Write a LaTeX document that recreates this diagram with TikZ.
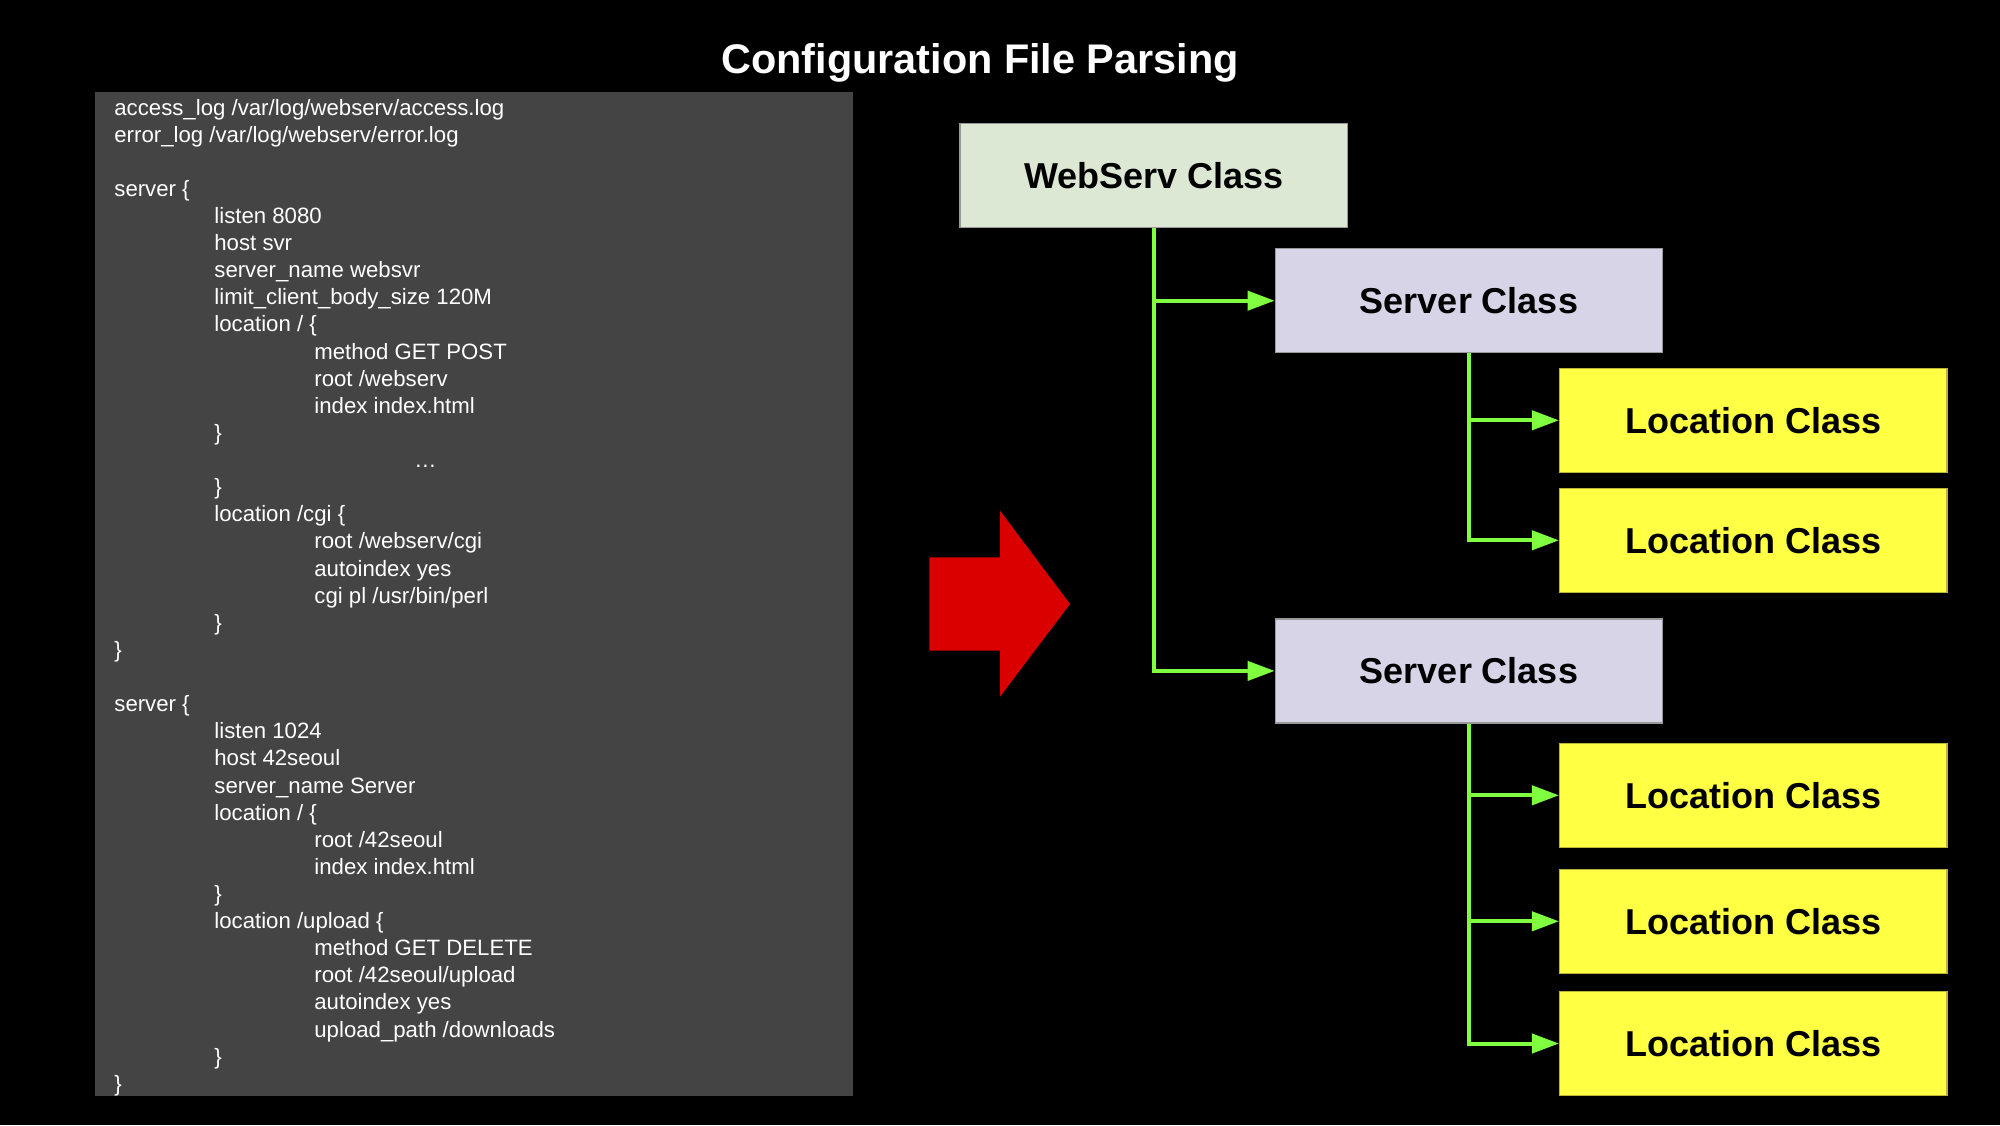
\documentclass[tikz,border=0pt]{standalone}
\usepackage{fontspec}
\setmainfont{Liberation Sans}
\usepackage{tikz}
\usepackage{xcolor}
\usetikzlibrary{arrows.meta,positioning}
\definecolor{panelgray}{RGB}{68,68,68}
\definecolor{webgreen}{RGB}{221,232,212}
\definecolor{serverlilac}{RGB}{216,212,232}
\definecolor{locyellow}{RGB}{255,255,68}
\definecolor{linkgreen}{RGB}{128,255,64}
\definecolor{parsered}{RGB}{218,0,0}

\begin{document}
\begin{tikzpicture}[x=0.5pt,y=-0.5pt]
    % Define styles
    \tikzstyle{codeline} = [anchor=base west, inner sep=0pt, text=white, font=\fontsize{11.1}{13}\selectfont]
    \tikzstyle{classbox} = [rectangle, draw, line width=0.6pt, minimum width=193.75pt, minimum height=52pt, inner sep=0pt, font=\bfseries\fontsize{18}{21}\selectfont]
    \tikzstyle{webclass} = [classbox, draw=gray!80, fill=webgreen]
    \tikzstyle{serverclass} = [classbox, draw=gray!80, fill=serverlilac]
    \tikzstyle{locclass} = [classbox, draw=yellow!70!black, fill=locyellow]
    \tikzstyle{link} = [draw=linkgreen, line width=2pt, -{Triangle[length=13.5pt,width=9.5pt]}]

    % Background
    \fill[black] (0,0) rectangle (2000,1125);

    % Title
    \node[anchor=base, text=white, font=\bfseries\fontsize{20.7}{24}\selectfont] (title) at (980,73) {Configuration File Parsing};

    % Config file
    \fill[panelgray] (95,92.3) rectangle (853,1096);
    \foreach \ind/\txt [count=\i] in {
        0/{access\_log /var/log/webserv/access.log},
        0/{error\_log /var/log/webserv/error.log},
        0/{},
        0/{server \{},
        1/{listen 8080},
        1/{host svr},
        1/{server\_name websvr},
        1/{limit\_client\_body\_size 120M},
        1/{location / \{},
        2/{method GET POST},
        2/{root /webserv},
        2/{index index.html},
        1/{\}},
        3/{…},
        1/{\}},
        1/{location /cgi \{},
        2/{root /webserv/cgi},
        2/{autoindex yes},
        2/{cgi pl /usr/bin/perl},
        1/{\}},
        0/{\}},
        0/{},
        0/{server \{},
        1/{listen 1024},
        1/{host 42seoul},
        1/{server\_name Server},
        1/{location / \{},
        2/{root /42seoul},
        2/{index index.html},
        1/{\}},
        1/{location /upload \{},
        2/{method GET DELETE},
        2/{root /42seoul/upload},
        2/{autoindex yes},
        2/{upload\_path /downloads},
        1/{\}},
        0/{\}}}
        \node[codeline] (line\i) at ({114+100*\ind},{115+27.12*(\i-1)}) {\txt};

    % Parse arrow
    \fill[parsered] (929.3,557.3) -- (1000,557.3) -- (1000,510.7) -- (1070,604)
        -- (1000,696.7) -- (1000,650.7) -- (929.3,650.7) -- cycle;

    % Classes
    \node[webclass] (web) at (1153.75,175.5) {WebServ Class};
    \node[serverclass] (srv1) at (1469,300.7) {Server Class};
    \node[locclass] (loc1) at (1753.3,420.3) {Location Class};
    \node[locclass] (loc2) at (1753.3,540.3) {Location Class};
    \node[serverclass] (srv2) at (1469,670.9) {Server Class};
    \node[locclass] (loc3) at (1753.3,795.3) {Location Class};
    \node[locclass] (loc4) at (1753.3,921.3) {Location Class};
    \node[locclass] (loc5) at (1753.3,1043.5) {Location Class};

    % Arrows
    \draw[link] (web.south) |- (srv2.west);
    \draw[link] (web.south |- srv1.west) -- (srv1.west);
    \draw[link] (srv1.south) |- (loc2.west);
    \draw[link] (srv1.south |- loc1.west) -- (loc1.west);
    \draw[link] (srv2.south) |- (loc5.west);
    \draw[link] (srv2.south |- loc3.west) -- (loc3.west);
    \draw[link] (srv2.south |- loc4.west) -- (loc4.west);
\end{tikzpicture}
\end{document}
